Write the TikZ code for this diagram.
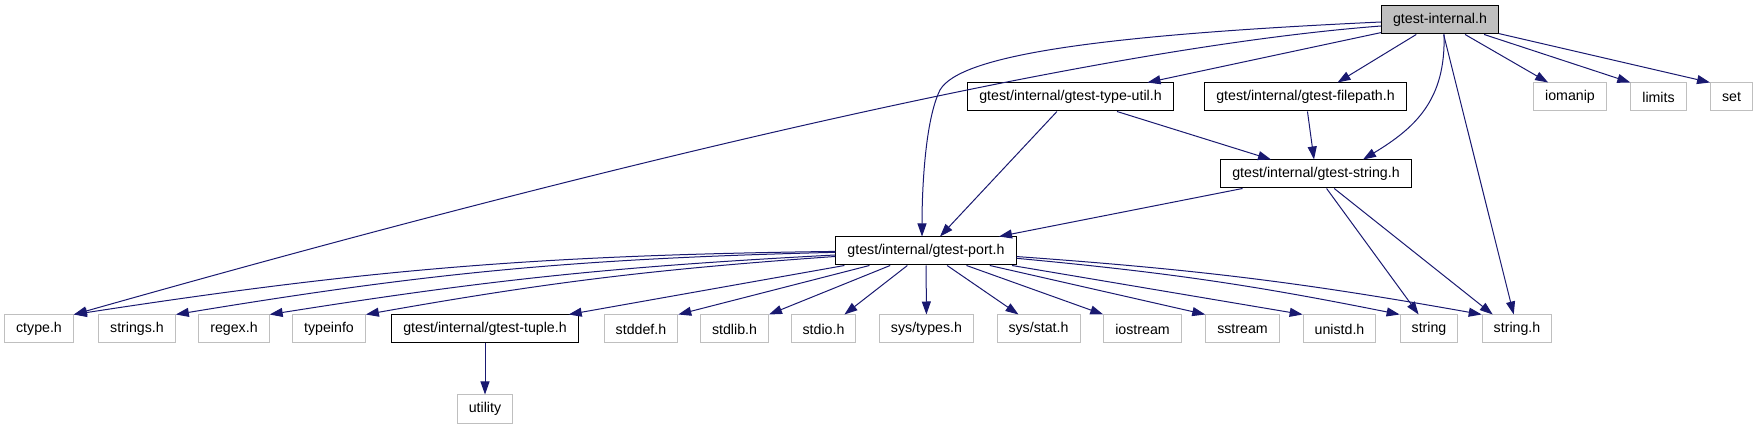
\documentclass[tikz,border=0pt]{standalone}
\usepackage{fontspec}
\setmainfont{Liberation Sans}
\usetikzlibrary{arrows.meta}
\definecolor{edgeblue}{RGB}{25,25,112}
\definecolor{boxgray}{RGB}{191,191,191}

\begin{document}
\begin{tikzpicture}[x=1pt, y=-1pt, >={Triangle[length=13pt,width=9pt]},
        every node/.style={font=\fontsize{14.2}{17}\selectfont, inner xsep=11.5pt, inner ysep=0pt, minimum height=28pt},
        hdr/.style={draw=black, line width=1pt, fill=white},
        sys/.style={draw=boxgray, line width=1pt, fill=white},
        rootbox/.style={draw=black, line width=1pt, fill=boxgray},
        edge/.style={->, edgeblue, line width=1pt}]
        \useasboundingbox (0,0) rectangle (1759,427);

        % Draw top header and its direct includes
        \node[rootbox] (root) at (1440,20) {gtest-internal.h};
        \node[hdr] (typeutil) at (1070.5,97) {gtest/internal/gtest-type-util.h};
        \node[hdr] (filepath) at (1305.5,97) {gtest/internal/gtest-filepath.h};
        \node[sys] (iomanip) at (1570,97) {iomanip};
        \node[sys] (limits) at (1658.5,97) {limits};
        \node[sys] (sethdr) at (1731.5,97) {set};
        \node[hdr] (gstring) at (1316,174) {gtest/internal/gtest-string.h};
        \node[hdr] (port) at (926,251) {gtest/internal/gtest-port.h};

        % Draw bottom row
        \node[sys] (ctype) at (39,329) {ctype.h};
        \node[sys] (strings) at (137,329) {strings.h};
        \node[sys] (regex) at (234,329) {regex.h};
        \node[sys] (typeinfo) at (329,329) {typeinfo};
        \node[hdr] (tuple) at (485,329) {gtest/internal/gtest-tuple.h};
        \node[sys] (stddef) at (641,329) {stddef.h};
        \node[sys] (stdlib) at (734.5,329) {stdlib.h};
        \node[sys] (stdio) at (823.5,329) {stdio.h};
        \node[sys] (systypes) at (926.5,329) {sys/types.h};
        \node[sys] (sysstat) at (1038.5,329) {sys/stat.h};
        \node[sys] (iostream) at (1142.5,329) {iostream};
        \node[sys] (sstream) at (1242.5,329) {sstream};
        \node[sys] (unistd) at (1339.5,329) {unistd.h};
        \node[sys] (stdstring) at (1429,329) {string};
        \node[sys] (stringh) at (1517,329) {string.h};
        \node[sys] (utility) at (485,409) {utility};

        % Draw includes of gtest-internal.h
        \draw[edge] ([yshift=-6]root.west) .. controls (1000,55) and (320,245) .. (ctype.north east);
        \draw[edge] ([yshift=-2]root.west) .. controls (1100,35) and (960,55) .. (940,90)
            .. controls (925,120) and (922,190) .. ([xshift=-4]port.north);
        \draw[edge] (root) -- ([xshift=77]typeutil.north);
        \draw[edge] (root) -- ([xshift=32]filepath.north);
        \draw[edge] ([xshift=4]root.south) .. controls (1446,100) and (1415,128) .. ([xshift=47]gstring.north);
        \draw[edge] (root) -- ([xshift=32]stringh.north west);
        \draw[edge] (root) -- ([xshift=15]iomanip.north west);
        \draw[edge] (root) -- (limits.north west);
        \draw[edge] (root) -- (sethdr.north west);

        % Draw includes of the internal headers
        \draw[edge] (typeutil) -- ([xshift=14]port.north);
        \draw[edge] (typeutil) -- ([xshift=-45]gstring.north);
        \draw[edge] (filepath) -- ([xshift=-2]gstring.north);
        \draw[edge] (gstring) -- ([xshift=73]port.north);
        \draw[edge] (gstring) -- ([xshift=19]stdstring.north west);
        \draw[edge] (gstring) -- ([xshift=11]stringh.north west);
        \draw[edge] (tuple) -- (utility);

        % Draw includes of gtest-port.h
        \draw[edge] (port) to[bend right=4] (ctype.north east);
        \draw[edge] (port) to[bend right=4] (strings.north east);
        \draw[edge] (port) to[bend right=3] (regex.north east);
        \draw[edge] (port) to[bend right=3] (typeinfo.north east);
        \draw[edge] (port) -- ([xshift=-10]tuple.north east);
        \draw[edge] (port) -- (stddef.north east);
        \draw[edge] (port) -- (stdlib.north east);
        \draw[edge] (port) -- ([xshift=-12]stdio.north east);
        \draw[edge] (port) -- (systypes);
        \draw[edge] (port) -- ([xshift=22]sysstat.north west);
        \draw[edge] (port) -- (iostream.north west);
        \draw[edge] (port) -- (sstream.north west);
        \draw[edge] (port) -- (unistd.north west);
        \draw[edge] (port) to[bend left=3] (stdstring.north west);
        \draw[edge] (port) to[bend left=3] (stringh.north west);
\end{tikzpicture}
\end{document}
